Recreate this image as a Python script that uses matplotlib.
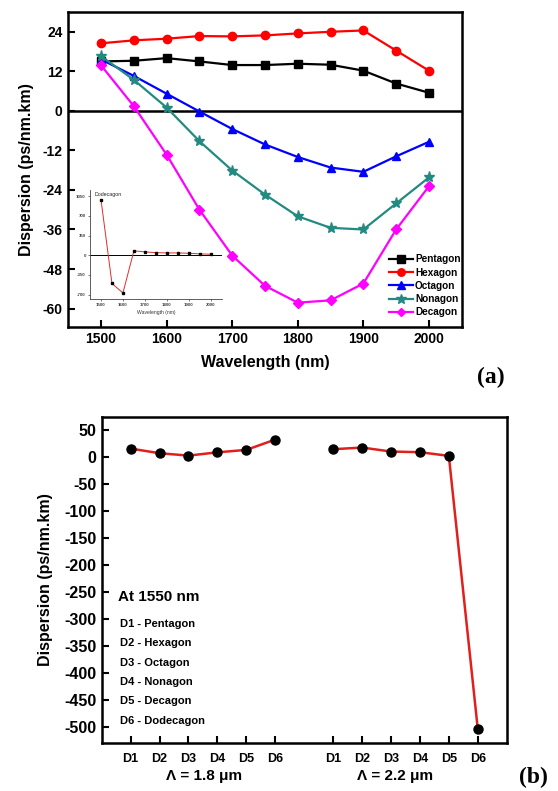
# -*- coding: utf-8 -*-
# dispersion of PCF cores: (a) vs wavelength, (b) at 1550 nm for two pitches

from matplotlib import pyplot as plt

plt.rcParams['font.family'] = ['Liberation Sans', 'DejaVu Sans']
plt.rcParams['font.weight'] = 'bold'
plt.rcParams['axes.unicode_minus'] = False  # plain hyphen like the original

# data
wavelength = [1500, 1550, 1600, 1650, 1700, 1750, 1800, 1850, 1900, 1950, 2000]
pentagon = [15.0, 15.2, 16.0, 15.0, 13.9, 13.9, 14.3, 14.0, 12.2, 8.3, 5.5]
hexagon = [20.5, 21.4, 21.9, 22.7, 22.6, 22.9, 23.5, 24.0, 24.4, 18.3, 12.2]
octagon = [15.6, 10.6, 5.2, -0.2, -5.5, -10.2, -14.0, -17.2, -18.5, -13.8, -9.4]
nonagon = [16.6, 9.4, 1.0, -9.2, -18.1, -25.4, -32.0, -35.5, -36.0, -28.1, -20.2]
decagon = [13.8, 1.4, -13.3, -30.0, -43.9, -53.1, -58.2, -57.5, -52.4, -36.0, -22.9]
dodecagon = [990, -503, -673, 77, 59, 45, 40, 40, 34, 23, 17]

shapes = ['Pentagon', 'Hexagon', 'Octagon', 'Nonagon', 'Decagon']
colors = ['black', '#ff0000', '#0000ff', '#228a80', '#ff00ff']
markers = ['s', 'o', '^', '*', 'D']

d_labels = ['D1', 'D2', 'D3', 'D4', 'D5', 'D6']
disp_18 = [16.0, 7.4, 3.0, 9.0, 13.6, 32.7]
disp_22 = [14.8, 17.9, 10.5, 9.3, 2.5, -503]
key_lines = ['D1 - Pentagon', 'D2 - Hexagon', 'D3 - Octagon',
             'D4 - Nonagon', 'D5 - Decagon', 'D6 - Dodecagon']

W, H = 558.0, 791.0
fig = plt.figure(figsize=(W / 100, H / 100), dpi=100)

# ---------------- panel (a)
ax1 = fig.add_axes([68.3 / W, 1 - 326.7 / H, 393.4 / W, 314.7 / H])
series = [pentagon, hexagon, octagon, nonagon, decagon]
for name, ys, c, m in zip(shapes, series, colors, markers):
    ms = 8 if m == '*' else (5 if m == 'D' else 6)
    ax1.plot(wavelength, ys, color=c, marker=m, ms=ms, lw=1.6, label=name)
ax1.axhline(0, color='black', lw=1.8, zorder=1)
ax1.set_xlim(1450, 2050)
ax1.set_ylim(-65.5, 30)
ax1.set_xticks(range(1500, 2001, 100))
ax1.set_yticks(range(-60, 25, 12))
ax1.set_xlabel('Wavelength (nm)', fontsize=11.5, fontweight='bold', labelpad=6)
ax1.set_ylabel('Dispersion (ps/nm.km)', fontsize=11.5, fontweight='bold', labelpad=6)
ax1.legend(loc='lower right', bbox_to_anchor=(0.997, 0.03), frameon=False,
           fontsize=7.2, borderpad=0, borderaxespad=0, labelspacing=0.32,
           handlelength=2.4, handletextpad=0.25, markerscale=0.9)
fig.text(491 / W, 1 - 377 / H, '(a)', fontsize=17, fontweight='bold',
         family='Liberation Serif', ha='center', va='center')

# inset: dodecagon
ins = fig.add_axes([90 / W, 1 - 299 / H, 131.7 / W, 109 / H], facecolor='none')
ins.plot(wavelength, dodecagon, color='#d9302a', lw=0.7, marker='s', ms=2,
         mfc='black', mec='black')
ins.axhline(0, color='black', lw=0.7, zorder=0)
ins.set_xlim(1450, 2050)
ins.set_ylim(-780, 1160)
ins.set_xticks(range(1500, 2001, 100))
ins.set_yticks([-700, -350, 0, 350, 700, 1050])
ins.spines['top'].set_visible(False)
ins.spines['right'].set_visible(False)
for s in ['left', 'bottom']:
    ins.spines[s].set_linewidth(0.6)
    ins.spines[s].set_color('#444444')
ins.tick_params(labelsize=3.2, length=1.5, width=0.5, pad=1.5, colors='#444444')
ins.set_xlabel('Wavelength (nm)', fontsize=3.6, fontweight='normal',
               color='#333333', labelpad=2)
ins.text(1470, 1080, 'Dodecagon', fontsize=3.8, fontweight='normal',
         color='#222222', va='center')

# ---------------- panel (b)
ax2 = fig.add_axes([101.7 / W, 1 - 743 / H, 405 / W, 326.3 / H])
x18 = [1, 2, 3, 4, 5, 6]
x22 = [8, 9, 10, 11, 12, 13]
for xs, ys in [(x18, disp_18), (x22, disp_22)]:
    ax2.plot(xs, ys, color='#e0201c', lw=1.8, zorder=2)
    ax2.plot(xs, ys, 'o', color='black', ms=6.5, zorder=3)
ax2.set_xlim(0, 14)
ax2.set_ylim(-529, 75)
ax2.set_xticks(x18 + x22)
ax2.set_xticklabels(d_labels + d_labels, fontsize=9)
ax2.set_yticks(range(-500, 51, 50))
ax2.set_ylabel('Dispersion (ps/nm.km)', fontsize=11.5, fontweight='bold', labelpad=8)
ax2.text(3.55, -590, '\u039b = 1.8 \u03bcm', fontsize=11, fontweight='bold',
         ha='center', va='center')
ax2.text(10.15, -590, '\u039b = 2.2 \u03bcm', fontsize=11, fontweight='bold',
         ha='center', va='center')
ax2.text(0.58, -259, 'At 1550 nm', fontsize=11, fontweight='bold', va='center')
for i, t in enumerate(key_lines):
    ax2.text(0.64, -308 - 36 * i, t, fontsize=8, fontweight='bold', va='center')
fig.text(533 / W, 1 - 777 / H, '(b)', fontsize=17, fontweight='bold',
         family='Liberation Serif', ha='center', va='center')

for ax in (ax1, ax2):
    for s in ax.spines.values():
        s.set_linewidth(1.8)
    ax.tick_params(direction='in', length=5, width=1.5, labelsize=10, pad=4)
    for lab in ax.get_xticklabels() + ax.get_yticklabels():
        lab.set_fontweight('bold')
ax2.tick_params(axis='x', labelsize=9, pad=7)
ax2.tick_params(axis='y', labelsize=11.5)

plt.savefig('out.png', dpi=100)
